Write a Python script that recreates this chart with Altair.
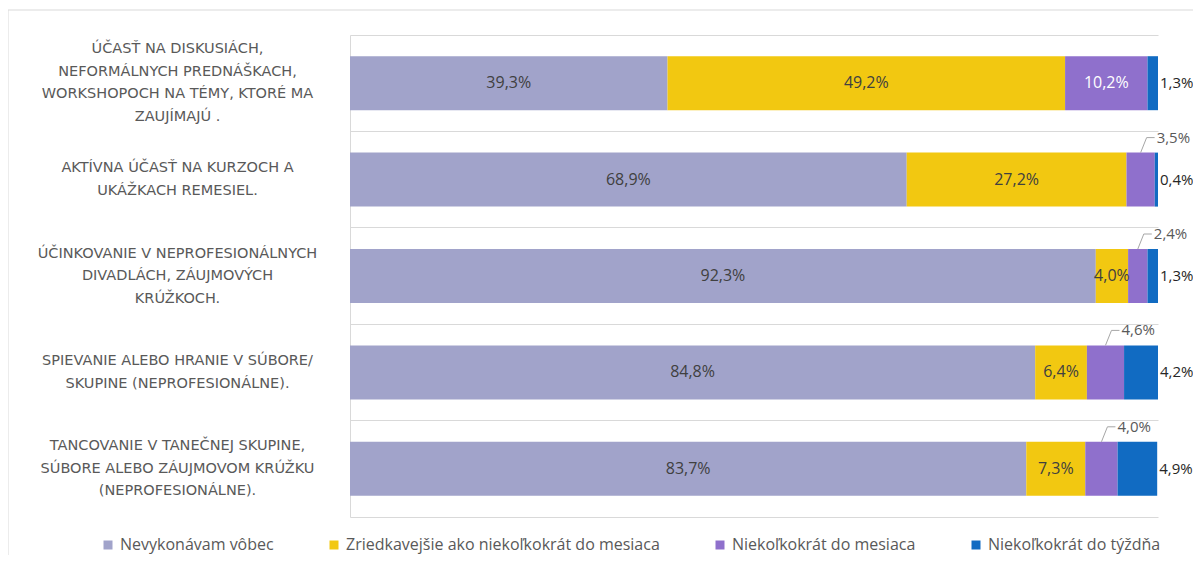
import altair as alt
import pandas as pd

activities = [
    "ÚČASŤ NA DISKUSIÁCH,|NEFORMÁLNYCH PREDNÁŠKACH,|WORKSHOPOCH NA TÉMY, KTORÉ MA|ZAUJÍMAJÚ .",
    "AKTÍVNA ÚČASŤ NA KURZOCH A|UKÁŽKACH REMESIEL.",
    "ÚČINKOVANIE V NEPROFESIONÁLNYCH|DIVADLÁCH,  ZÁUJMOVÝCH|KRÚŽKOCH.",
    "SPIEVANIE ALEBO HRANIE V SÚBORE/|SKUPINE (NEPROFESIONÁLNE).",
    "TANCOVANIE V TANEČNEJ SKUPINE,|SÚBORE ALEBO ZÁUJMOVOM KRÚŽKU|(NEPROFESIONÁLNE).",
]
series = [
    "Nevykonávam vôbec",
    "Zriedkavejšie ako niekoľkokrát do mesiaca",
    "Niekoľkokrát do mesiaca",
    "Niekoľkokrát do týždňa",
]
colors = ["#A1A3CA", "#F2C811", "#8F70CC", "#116BC2"]

nevykonavam = [39.3, 68.9, 92.3, 84.8, 83.7]
zriedkavejsie = [49.2, 27.2, 4.0, 6.4, 7.3]
mesiac = [10.2, 3.5, 2.4, 4.6, 4.0]
tyzden = [1.3, 0.4, 1.3, 4.2, 4.9]

rows = []
for si, vals in enumerate([nevykonavam, zriedkavejsie, mesiac, tyzden]):
    for ai, v in enumerate(vals):
        if si == 3:
            pos = "right"
        elif si == 2 and v < 5:
            pos = "above"
        else:
            pos = "inside"
        tcol = "#FFFFFF" if (si == 2 and pos == "inside") else "#404040"
        rows.append({
            "activity": activities[ai],
            "series": series[si],
            "order": si,
            "value": v,
            "label": f"{v:.1f}".replace(".", ",") + "%",
            "pos": pos,
            "tcol": tcol,
        })
df = pd.DataFrame(rows)

GRID = "#D9D9D9"
y_sort = activities
LH = 22.5

nlines = "length(split(datum.value, '|'))"
label_offset = {
    "condition": [
        {"test": f"{nlines} == 4", "value": -1.5 * LH},
        {"test": f"{nlines} == 3", "value": -1.0 * LH},
    ],
    "value": -0.5 * LH,
}

xaxis = alt.Axis(labels=False, ticks=False, grid=False, title=None,
                 domain=True, domainColor=GRID, domainWidth=1)
yaxis = alt.Axis(title=None, ticks=False, grid=True, gridColor=GRID,
                 gridWidth=1, bandPosition=0, labelOffset=label_offset,
                 domain=True, domainColor=GRID,
                 labelAlign="center", labelBaseline="middle",
                 labelPadding=173, labelFont="DejaVu Sans",
                 labelFontSize=14.5, labelColor="#595959",
                 labelLineHeight=LH, labelLimit=400,
                 labelExpr="split(datum.value, '|')")
xscale = alt.Scale(domain=[0, 100], nice=False, zero=True)
yscale = alt.Scale(paddingInner=0, paddingOuter=0)


def Y():
    return alt.Y("activity:N", sort=y_sort, scale=yscale, axis=yaxis)


def X(field, **kw):
    return alt.X(field, scale=xscale, axis=xaxis, **kw)


base = alt.Chart(df)

bars = base.mark_bar(size=54).encode(
    x=X("value:Q", stack="zero"),
    y=Y(),
    color=alt.Color("series:N", sort=series,
                    scale=alt.Scale(domain=series, range=colors),
                    legend=alt.Legend(title=None, orient="none",
                                      direction="horizontal",
                                      legendX=-250, legendY=502,
                                      symbolType="square", symbolSize=81,
                                      symbolStrokeWidth=0, labelOffset=4,
                                      labelFont="Open Sans", labelFontSize=16,
                                      labelColor="#595959", columnPadding=52,
                                      labelLimit=500)),
    order=alt.Order("order:Q"),
)

stacked = base.transform_stack(
    stack="value", groupby=["activity"], as_=["x0", "x1"],
    sort=[alt.SortField("order", order="ascending")],
).transform_calculate(mid="(datum.x0 + datum.x1) / 2")

inside = stacked.transform_filter("datum.pos == 'inside'").mark_text(
    font="Open Sans", fontSize=16, baseline="middle", align="center"
).encode(
    x=X("mid:Q"),
    y=Y(),
    text="label:N",
    color=alt.Color("tcol:N", scale=None),
)

right = stacked.transform_filter("datum.pos == 'right'").mark_text(
    font="Open Sans", fontSize=15, baseline="middle", align="left", dx=2,
    color="#262626"
).encode(
    x=X("x1:Q"),
    y=Y(),
    text="label:N",
)

above = stacked.transform_filter("datum.pos == 'above'").mark_text(
    font="Open Sans", fontSize=15, baseline="middle", align="left",
    dx=16, dy=-42, color="#595959"
).encode(
    x=X("mid:Q"),
    y=Y(),
    text="label:N",
)

leader_diag = stacked.transform_filter("datum.pos == 'above'").mark_rule(
    color="#A6A6A6", strokeWidth=1, yOffset=-27, y2Offset=-42, x2Offset=6
).encode(
    x=X("mid:Q"),
    x2="mid:Q",
    y=Y(),
    y2="activity:N",
)

leader_h = stacked.transform_filter("datum.pos == 'above'").mark_rule(
    color="#A6A6A6", strokeWidth=1, xOffset=6, x2Offset=14, yOffset=-42
).encode(
    x=X("mid:Q"),
    x2="mid:Q",
    y=Y(),
)

frame_top = alt.Chart(pd.DataFrame({"a": [0]})).mark_rule(
    color=GRID, strokeWidth=1
).encode(x=alt.value(-342), x2=alt.value(843), y=alt.value(-25))

frame_left = alt.Chart(pd.DataFrame({"a": [0]})).mark_rule(
    color=GRID, strokeWidth=1
).encode(x=alt.value(-342), y=alt.value(-25), y2=alt.value(520))

chart = alt.layer(
    bars, inside, right, above, leader_diag, leader_h, frame_top, frame_left
).properties(
    width=808, height=482,
    autosize=alt.AutoSizeParams(type="none"),
    padding={"left": 342, "top": 27, "right": 35, "bottom": 38},
).configure_view(stroke=None)

chart.save("out.html", embed_options={"renderer": "svg", "actions": False})
